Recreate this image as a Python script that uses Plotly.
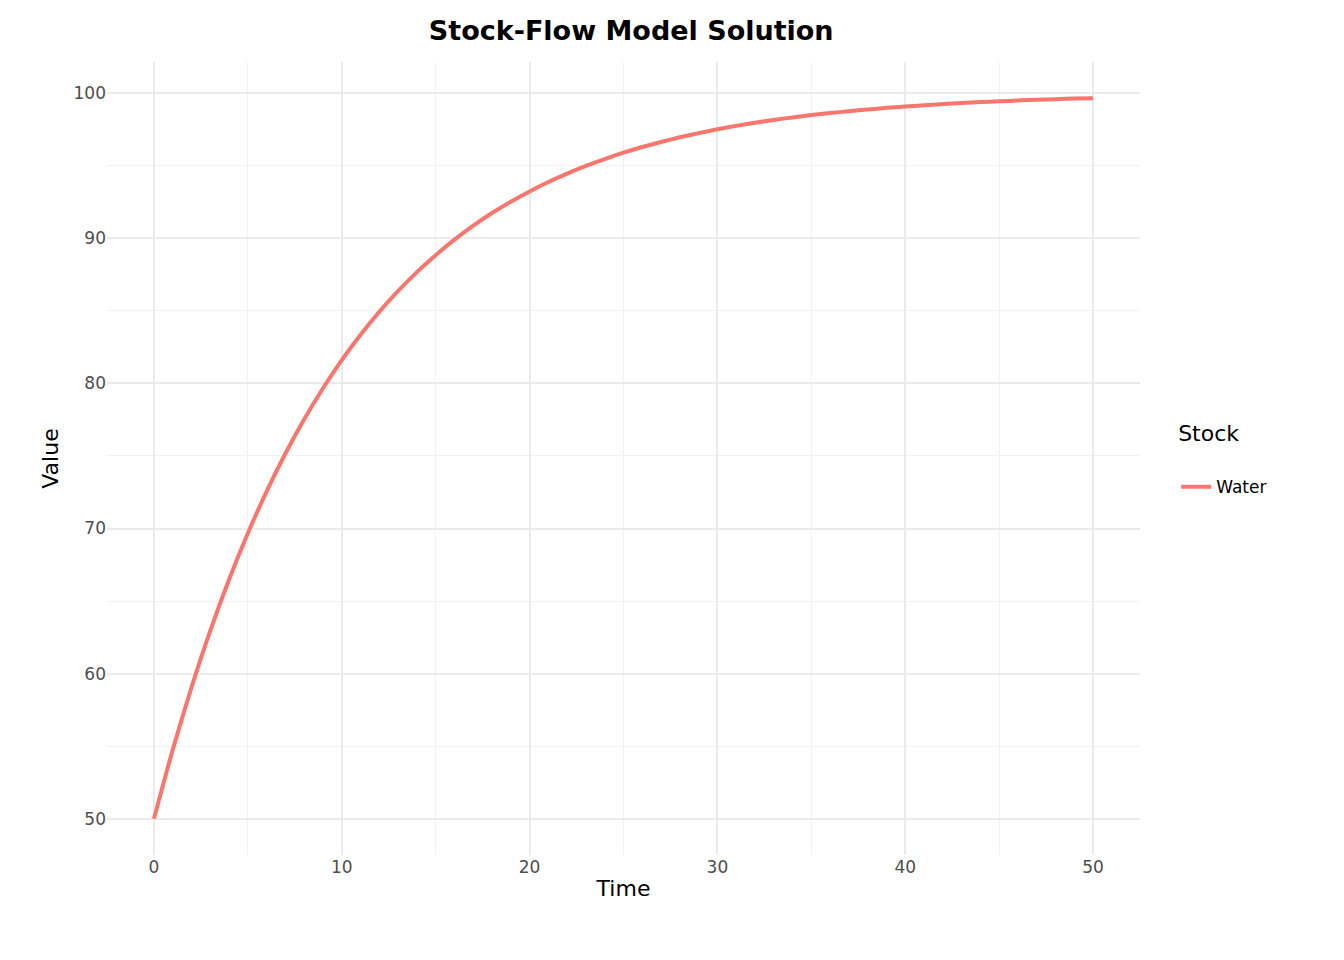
import plotly.graph_objects as go

time = list(range(0, 51))
water = [50.00, 54.76, 59.06, 62.96, 66.48, 69.67, 72.56, 75.17, 77.53, 79.67, 81.61, 83.36, 84.94,
         86.37, 87.67, 88.84, 89.91, 90.87, 91.74, 92.52, 93.23, 93.88, 94.46, 94.99, 95.46, 95.90,
         96.29, 96.64, 96.96, 97.25, 97.51, 97.75, 97.96, 98.16, 98.33, 98.49, 98.63, 98.76, 98.88,
         98.99, 99.08, 99.17, 99.25, 99.32, 99.39, 99.44, 99.50, 99.55, 99.59, 99.63, 99.66]

fig = go.Figure(go.Scatter(x=time, y=water, mode="lines", name="Water",
                           line=dict(color="#F8766D", width=4, shape="spline", smoothing=0.6)))
ax = dict(showline=False, zeroline=False, gridcolor="#EBEBEB", gridwidth=2.2,
          tickfont=dict(size=17, color="#4D4D4D"), ticks="")
fig.update_layout(
    width=1344, height=960, plot_bgcolor="white", paper_bgcolor="white",
    font=dict(family="DejaVu Sans", color="black"),
    margin=dict(l=99, r=212, t=54, b=113),
    title=dict(text="<b>Stock-Flow Model Solution</b>", x=0.4637, xanchor="center", y=0.977, yanchor="middle",
               font=dict(size=27)),
    xaxis=dict(ax, range=[-2.5, 52.5], dtick=10, title=dict(text="Time", font=dict(size=22), standoff=4),
               minor=dict(showgrid=True, gridcolor="#F2F2F2", gridwidth=1.2, dtick=5)),
    yaxis=dict(ax, range=[47.5, 102.15], dtick=10, title=dict(text="Value", font=dict(size=22), standoff=8),
               minor=dict(showgrid=True, gridcolor="#F2F2F2", gridwidth=1.2, dtick=5)),
    showlegend=True,
    legend=dict(title=dict(text="Stock<br> ", font=dict(size=22)), font=dict(size=17),
                x=1.035, y=0.5, yanchor="middle"),
)
fig.write_html("out.html")
